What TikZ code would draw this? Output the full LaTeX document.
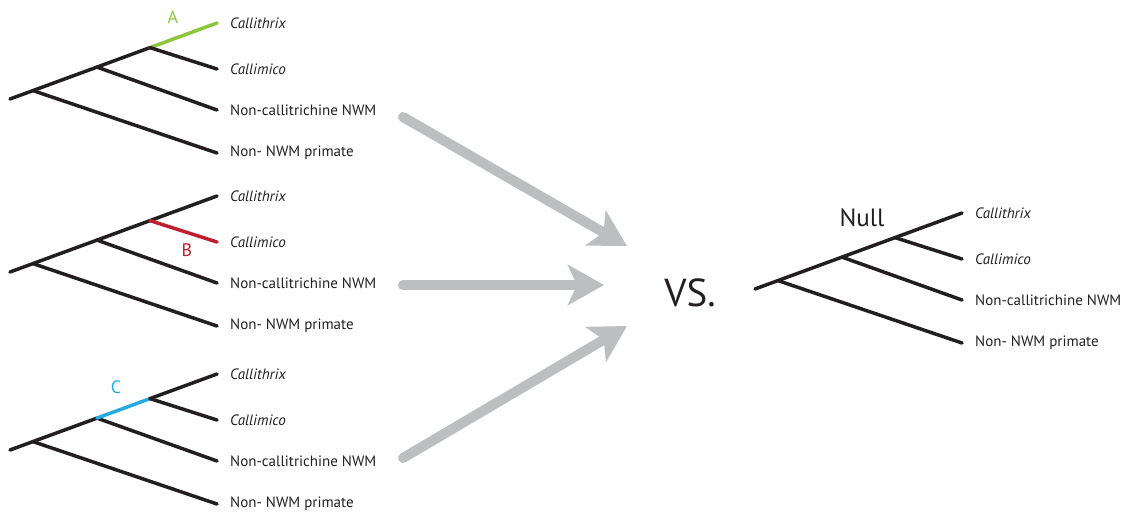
\documentclass[tikz,border=0pt]{standalone}
\usepackage{fontspec}
\setmainfont{PT Sans}
\usetikzlibrary{arrows.meta,positioning}
\definecolor{treeblack}{HTML}{231F20}
\definecolor{branchA}{HTML}{8CC63F}
\definecolor{branchB}{HTML}{BE1E2D}
\definecolor{branchC}{HTML}{27AAE1}
\definecolor{arrowgray}{HTML}{BCBEC0}
\begin{document}
\begin{tikzpicture}[
		x=1pt,y=-1pt,
		edge/.style={line width=3.5pt,line cap=round},
		taxon/.style={anchor=west,inner sep=0pt,text=treeblack,font=\fontsize{15}{17}\selectfont},
		bigarrow/.style={line width=10pt,draw=arrowgray,line cap=round,
			-{Stealth[length=36pt,width=40pt,inset=9pt]}}
	]
	\useasboundingbox (0,0) rectangle (1125,512);
	% the four trees: name/origin/colours of n2-n3, n3-Callithrix, n3-Callimico
	\foreach \t/\ox/\oy/\cc/\ca/\cb in {t1/10/99/treeblack/branchA/treeblack,
			t2/10/272/treeblack/treeblack/branchB,
			t3/10/450/branchC/treeblack/treeblack,
			null/755/289/treeblack/treeblack/treeblack}{
		\begin{scope}[shift={(\ox,\oy)}]
			\coordinate (\t-root) at (0,0);
			\coordinate (\t-n1) at (23,-8.4);
			\coordinate (\t-n2) at (87,-31.9);
			\coordinate (\t-n3) at (140,-51.4);
			\coordinate (\t-cx) at (207,-76);
			\coordinate (\t-cm) at (207,-30);
			\coordinate (\t-nc) at (207,11);
			\coordinate (\t-np) at (207,54);
			\node[taxon,right=13pt of \t-cx] (\t-cxlab) {\textit{Callithrix}};
			\node[taxon,right=13pt of \t-cm] (\t-cmlab) {\textit{Callimico}};
			\node[taxon,right=13pt of \t-nc] (\t-nclab) {Non-callitrichine NWM};
			\node[taxon,right=13pt of \t-np] (\t-nplab) {Non- NWM primate};
			\draw[edge,treeblack] (\t-root) -- (\t-n2);
			\draw[edge,treeblack] (\t-n1) -- (\t-np);
			\draw[edge,treeblack] (\t-n2) -- (\t-nc);
			\draw[edge,\cc] (\t-n2) -- (\t-n3);
			\draw[edge,\ca] (\t-n3) -- (\t-cx);
			\draw[edge,\cb] (\t-n3) -- (\t-cm);
		\end{scope}
	}
	% branch labels
	\node[text=branchA,font=\fontsize{18}{20}\selectfont] (labA) at (173,17) {A};
	\node[text=branchB,font=\fontsize{18}{20}\selectfont] (labB) at (187,250) {B};
	\node[text=branchC,font=\fontsize{18}{20}\selectfont] (labC) at (116,387) {C};
	\node[text=treeblack,font=\fontsize{25}{28}\selectfont] (labnull) at (862,218) {Null};
	\node[text=treeblack,font=\fontsize{39}{42}\selectfont] (vs) at (690,293) {VS.};
	% arrows
	\coordinate (from1) at (403,117);
	\coordinate (from2) at (403,285);
	\coordinate (from3) at (403,458);
	\coordinate (to1) at (627,246);
	\coordinate (to2) at (604,285);
	\coordinate (to3) at (627,326);
	\draw[bigarrow] (from1) -- (to1);
	\draw[bigarrow] (from2) -- (to2);
	\draw[bigarrow] (from3) -- (to3);
\end{tikzpicture}
\end{document}
